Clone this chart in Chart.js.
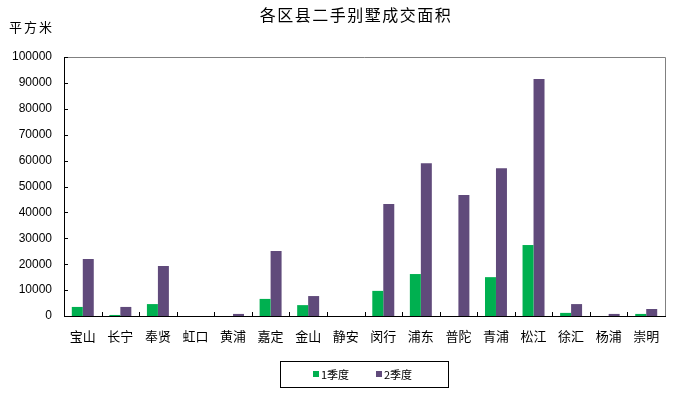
<!DOCTYPE html>
<html>
<head>
<meta charset="utf-8">
<script src="https://cdn.jsdelivr.net/npm/chart.js@4/dist/chart.umd.min.js"></script>
<style>
  html, body { margin: 0; padding: 0; background: #fff; }
  #wrap { width: 679px; height: 398px; }
</style>
</head>
<body>
<div id="wrap"><canvas id="chart" width="679" height="398"></canvas></div>
<script>
'use strict'

const districts = ['宝山', '长宁', '奉贤', '虹口', '黄浦', '嘉定', '金山', '静安', '闵行', '浦东', '普陀', '青浦', '松江', '徐汇', '杨浦', '崇明']
const q1Area = [3500, 400, 4600, 0, 0, 6600, 4200, 0, 9700, 16200, 0, 15000, 27400, 1200, 0, 800]
const q2Area = [22000, 3500, 19300, 0, 800, 25100, 7700, 0, 43200, 59000, 46700, 57000, 91500, 4600, 800, 2700]
const seriesNames = ['1季度', '2季度']
const yTicks = [0, 10000, 20000, 30000, 40000, 50000, 60000, 70000, 80000, 90000, 100000]

const titleText = '各区县二手别墅成交面积'
const unitText = '平方米'
const cjk = '"Noto Sans CJK SC", sans-serif'
const latin = '"Liberation Sans", Arial, sans-serif'

// frame, inner tick marks, title, unit label and boxed legend
const decor = {
  id: 'decor',
  beforeDatasetsDraw(chart) {
    const { ctx, chartArea: a } = chart
    ctx.save()
    ctx.strokeStyle = '#808080'
    ctx.lineWidth = 1
    ctx.beginPath()
    ctx.moveTo(a.left, a.top + 0.5)
    ctx.lineTo(a.right + 0.5, a.top + 0.5)
    ctx.lineTo(a.right + 0.5, a.bottom)
    ctx.stroke()
    ctx.restore()
  },
  afterDraw(chart) {
    const { ctx, chartArea: a } = chart
    const x = chart.scales.x
    const y = chart.scales.y
    ctx.save()
    ctx.strokeStyle = '#000'
    ctx.lineWidth = 1
    ctx.beginPath()
    yTicks.forEach(v => {
      const py = Math.round(y.getPixelForValue(v)) + 0.5
      ctx.moveTo(a.left, py)
      ctx.lineTo(a.left + 4, py)
    })
    const step = (a.right - a.left) / districts.length
    for (let i = 1; i < districts.length; i++) {
      const px = Math.round(x.getPixelForValue(i) - step / 2) + 0.5
      ctx.moveTo(px, a.bottom)
      ctx.lineTo(px, a.bottom - 4)
    }
    ctx.stroke()

    ctx.fillStyle = '#000'
    ctx.textBaseline = 'middle'
    ctx.textAlign = 'center'
    ctx.font = '16px ' + cjk
    ctx.letterSpacing = '1.5px'
    ctx.fillText(titleText, 356, 15)
    ctx.textAlign = 'left'
    ctx.font = '13px ' + cjk
    ctx.letterSpacing = '2px'
    ctx.fillText(unitText, 9, 27)
    ctx.letterSpacing = '0px'

    // legend
    ctx.strokeRect(280.5, 361.5, 168, 26)
    ctx.font = '11px ' + cjk
    const items = [{ sx: 313, tx: 321 }, { sx: 376, tx: 384 }]
    chart.data.datasets.forEach((ds, i) => {
      ctx.fillStyle = ds.backgroundColor
      ctx.fillRect(items[i].sx, 371, 6, 6)
      ctx.fillStyle = '#000'
      ctx.fillText(ds.label, items[i].tx, 375)
    })
    ctx.restore()
  }
}

new Chart(document.getElementById('chart').getContext('2d'), {
  type: 'bar',
  data: {
    labels: districts,
    datasets: [{
      label: seriesNames[0],
      data: q1Area,
      backgroundColor: '#00B050',
      categoryPercentage: 0.585,
      barPercentage: 1.0
    }, {
      label: seriesNames[1],
      data: q2Area,
      backgroundColor: '#604A7B',
      categoryPercentage: 0.585,
      barPercentage: 1.0
    }]
  },
  options: {
    responsive: false,
    animation: false,
    layout: { padding: { left: 0, right: 14, top: 57, bottom: 0 } },
    plugins: {
      legend: { display: false },
      tooltip: { enabled: false }
    },
    scales: {
      x: {
        grid: { display: false, drawTicks: false },
        border: { color: '#000', width: 1 },
        ticks: { color: '#000', padding: 12, font: { family: cjk, size: 13 }, maxRotation: 0, autoSkip: false },
        afterFit(scale) { scale.height = 82 }
      },
      y: {
        min: 0,
        max: 100000,
        afterBuildTicks(scale) { scale.ticks = yTicks.map(v => ({ value: v })) },
        grid: { display: false, drawTicks: false },
        border: { color: '#000', width: 1 },
        ticks: { color: '#000', padding: 12, font: { family: latin, size: 12 }, callback: v => String(v) },
        afterFit(scale) { scale.width = 64 }
      }
    }
  },
  plugins: [decor]
})
</script>
</body>
</html>
